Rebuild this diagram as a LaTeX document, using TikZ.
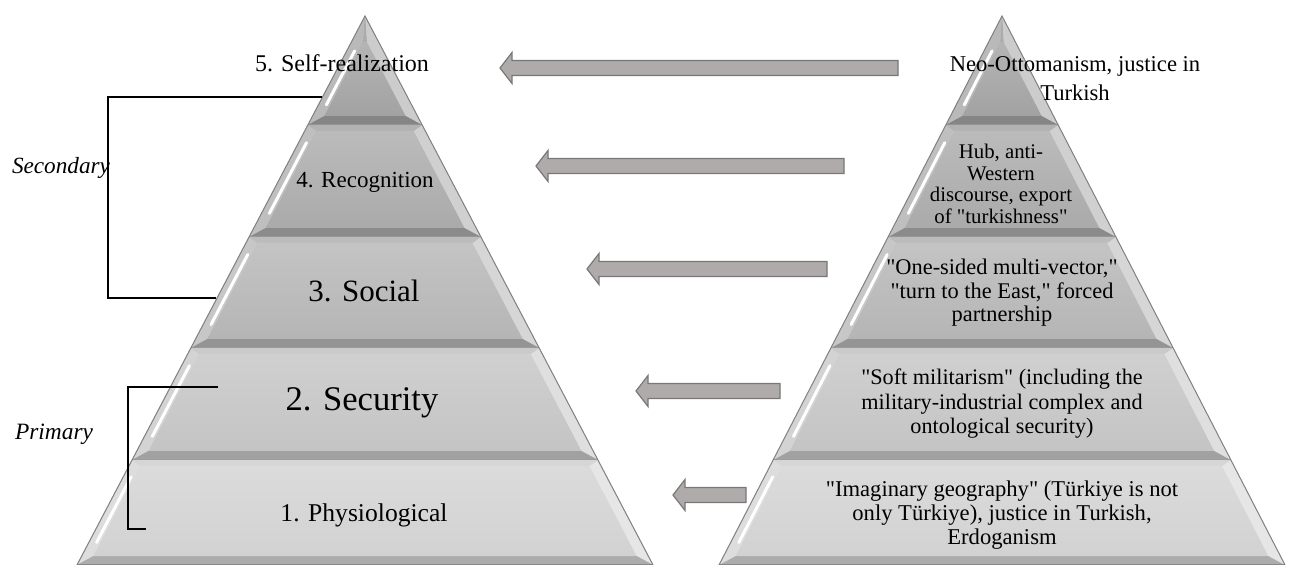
\documentclass[tikz,border=0pt]{standalone}
\definecolor{layfive}{RGB}{162, 162, 162}
\definecolor{layfour}{RGB}{170, 170, 170}
\definecolor{laythree}{RGB}{181, 181, 181}
\definecolor{laytwo}{RGB}{196, 196, 196}
\definecolor{layone}{RGB}{210, 210, 210}
\definecolor{arrowfill}{RGB}{176, 171, 171}
\definecolor{arrowline}{RGB}{120, 120, 120}
\usepackage{fontspec}
\setmainfont{Liberation Serif}[Ligatures=TeXOff]
\usepackage{tikz}
\usetikzlibrary{calc}

% one bevelled band of a pyramid: centre x, apex y, slope, top y, bottom y, colour
\newcommand{\pyrlayer}[6]{%
  \pgfmathsetmacro{\pyrTa}{#3*(#4-#2)}%
  \pgfmathsetmacro{\pyrBa}{#3*(#5-#2)}%
  \pgfmathsetmacro{\pyrIt}{max(#4+6,#2+26)}%
  \pgfmathsetmacro{\pyrIb}{#5-9}%
  \pgfmathsetmacro{\pyrIta}{max(#3*(\pyrIt-#2)-12,0.5)}%
  \pgfmathsetmacro{\pyrIba}{#3*(\pyrIb-#2)-12}%
  \coordinate (oTL) at (#1-\pyrTa,#4);
  \coordinate (oTR) at (#1+\pyrTa,#4);
  \coordinate (oBR) at (#1+\pyrBa,#5);
  \coordinate (oBL) at (#1-\pyrBa,#5);
  \coordinate (iTL) at (#1-\pyrIta,\pyrIt);
  \coordinate (iTR) at (#1+\pyrIta,\pyrIt);
  \coordinate (iBR) at (#1+\pyrIba,\pyrIb);
  \coordinate (iBL) at (#1-\pyrIba,\pyrIb);
  \fill[#6] (oTL) -- (oTR) -- (oBR) -- (oBL) -- cycle;
  \fill[#6!75!white] (oTL) -- (iTL) -- (iBL) -- (oBL) -- cycle;
  \fill[#6!55!white] (oTR) -- (iTR) -- (iBR) -- (oBR) -- cycle;
  \fill[#6!82!black] (oBL) -- (iBL) -- (iBR) -- (oBR) -- cycle;
  \fill[#6!90!white] (oTL) -- (oTR) -- (iTR) -- (iTL) -- cycle;
  \shade[top color=#6!80!white, bottom color=#6] (iTL) -- (iTR) -- (iBR) -- (iBL) -- cycle;
  \draw[white, line width=1.5pt, line cap=round] ($(iTL)!0.12!(iBL)+(-4,0)$) -- ($(iTL)!0.85!(iBL)+(-4,0)$);
  \draw[gray!90, line width=1pt] (oBL) -- (oBR);
}

% block arrow pointing left: tip, tail
\newcommand{\blockarrow}[2]{%
  \draw[blockarr] (#1) -- ($(#1)+(12,-15.5)$) -- ($(#1)+(12,-7.5)$) -- ($(#2)+(0,-7.5)$)
    -- ($(#2)+(0,7.5)$) -- ($(#1)+(12,7.5)$) -- ($(#1)+(12,15.5)$) -- cycle;
}

\begin{document}
\begin{tikzpicture}[x=0.5pt, y=-0.5pt,
  blockarr/.style={fill=arrowfill, draw=arrowline, line width=0.6pt},
  rtxt/.style={align=center, inner sep=0pt}]
  \useasboundingbox (0,0) rectangle (1304,565);

  % Left pyramid
  \foreach \ty/\by/\col in {16/125/layfive, 125/237/layfour, 237/348/laythree, 348/460/laytwo, 460/565/layone}
    {\pyrlayer{365}{16}{0.525}{\ty}{\by}{\col}}
  \draw[gray, line width=0.5pt] (365,16) -- (653,565) -- (77,565) -- cycle;

  % Right pyramid
  \foreach \ty/\by/\col in {16/125/layfive, 125/237/layfour, 237/348/laythree, 348/460/laytwo, 460/565/layone}
    {\pyrlayer{1002}{16}{0.515}{\ty}{\by}{\col}}
  \draw[gray, line width=0.5pt] (1002,16) -- (1285,565) -- (719,565) -- cycle;

  % Needs
  \node[inner sep=0pt, font=\fontsize{12}{14}\selectfont] (selfreal) at (342,63) {5. Self-realization};
  \node[inner sep=0pt, font=\fontsize{11.5}{14}\selectfont] (recog) at (365,182) {4. Recognition};
  \node[inner sep=0pt, font=\fontsize{15.5}{18}\selectfont] (social) at (364,291) {3. Social};
  \node[inner sep=0pt, font=\fontsize{17.3}{20}\selectfont] (security) at (362,403) {2. Security};
  \node[inner sep=0pt, font=\fontsize{12.8}{15}\selectfont] (physio) at (364,515) {1. Physiological};

  % Turkish policy
  \node[rtxt, font=\fontsize{11.3}{14.5}\selectfont] (neoott) at (1075,79) {Neo-Ottomanism, justice in\\Turkish};
  \node[rtxt, font=\fontsize{10.4}{10.75}\selectfont] (hub) at (1001,184) {Hub, anti-\\Western\\discourse, export\\of "turkishness"};
  \node[rtxt, font=\fontsize{11.2}{11.75}\selectfont] (multivec) at (1002,293) {"One-sided multi-vector,"\\"turn to the East," forced\\partnership};
  \node[rtxt, font=\fontsize{11.1}{12.25}\selectfont] (softmil) at (1002,404) {"Soft militarism" (including the\\military-industrial complex and\\ontological security)};
  \node[rtxt, font=\fontsize{11.3}{12}\selectfont] (imaggeo) at (1002,515) {"Imaginary geography" (Türkiye is not\\only Türkiye), justice in Turkish,\\Erdoganism};

  % Arrows
  \coordinate (tipA) at (500,68);  \coordinate (tailA) at (898,68);
  \coordinate (tipB) at (536,166); \coordinate (tailB) at (844,166);
  \coordinate (tipC) at (587,269); \coordinate (tailC) at (827,269);
  \coordinate (tipD) at (636,391); \coordinate (tailD) at (780,391);
  \coordinate (tipE) at (673,495); \coordinate (tailE) at (746,495);
  \blockarrow{tipA}{tailA}
  \blockarrow{tipB}{tailB}
  \blockarrow{tipC}{tailC}
  \blockarrow{tipD}{tailD}
  \blockarrow{tipE}{tailE}

  % Brackets
  \coordinate (secTop) at (322,97);  \coordinate (secBot) at (216,298);
  \coordinate (priTop) at (218,387); \coordinate (priBot) at (146,529);
  \draw[line width=0.6pt] (secTop) -- (108,97) -- (108,298) -- (secBot);
  \draw[line width=0.6pt] (priTop) -- (128,387) -- (128,529) -- (priBot);
  \node[inner sep=0pt, font=\fontsize{11.6}{14}\selectfont\itshape] (secondary) at (61,168) {Secondary};
  \node[inner sep=0pt, font=\fontsize{11.7}{14}\selectfont\itshape] (primary) at (54,434) {Primary};
\end{tikzpicture}
\end{document}
